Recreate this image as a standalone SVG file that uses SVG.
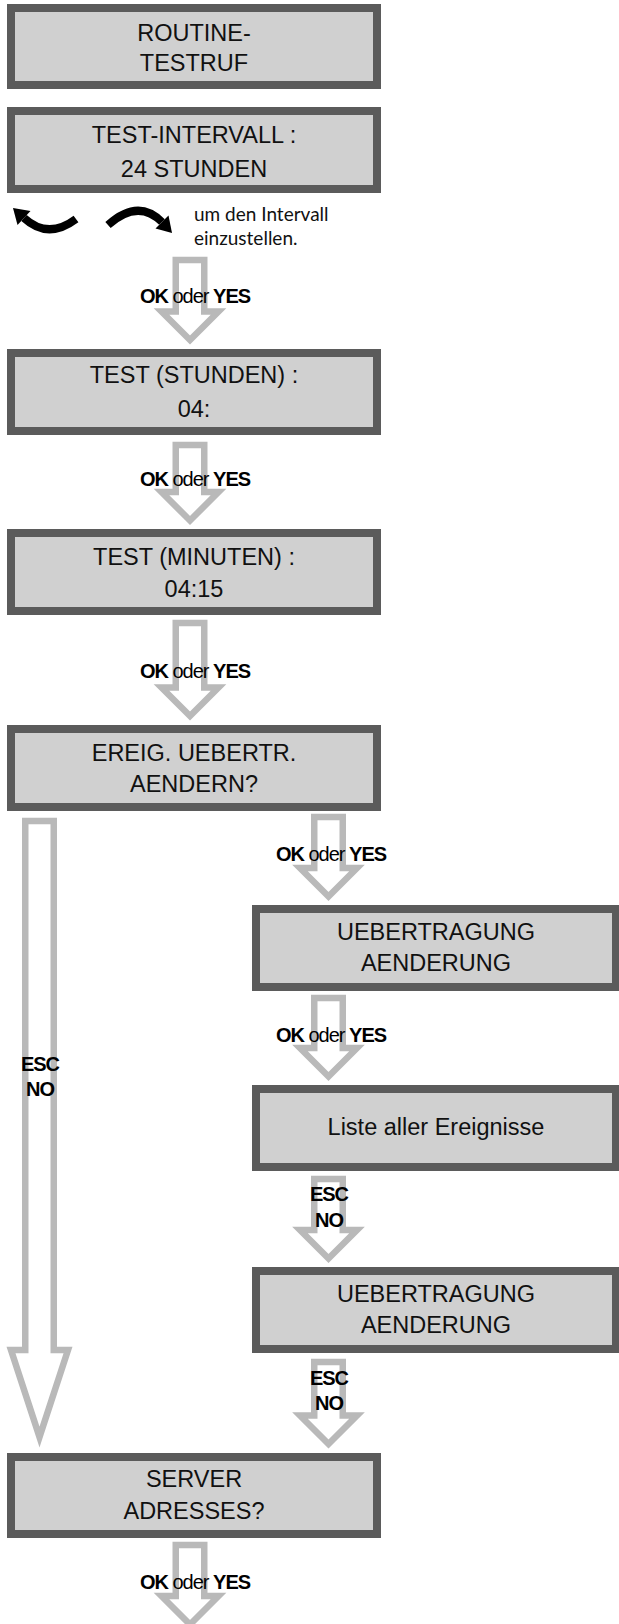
<svg xmlns="http://www.w3.org/2000/svg" width="619" height="1624" viewBox="0 0 619 1624">
<style>
.box{fill:#d0d0d0;stroke:#5b5b5b;stroke-width:8}
.bt{font-family:"Liberation Sans",Arial,sans-serif;font-size:23.5px;fill:#111;text-anchor:middle}
.arr{fill:none;stroke:#b9b9b9;stroke-width:6.5;stroke-linejoin:miter}
.lbl{font-family:"Liberation Sans",Arial,sans-serif;font-size:20px;fill:#000;text-anchor:middle;letter-spacing:-1px}
.b{font-weight:bold}
.hint{font-family:Lato,"Open Sans",sans-serif;font-size:19px;fill:#111}
.curve{fill:none;stroke:#000;stroke-width:8}
</style>
<rect width="619" height="1624" fill="#fff"/>
<g id="connectors">
  <polygon class="arr" points="175.75,260 204.25,260 204.25,311.5 218.5,311.5 190,340 161.5,311.5 175.75,311.5"/>
  <polygon class="arr" points="175.75,445 204.25,445 204.25,492 218.5,492 190,520.5 161.5,492 175.75,492"/>
  <polygon class="arr" points="175.75,623 204.25,623 204.25,687.5 218.5,687.5 190,716 161.5,687.5 175.75,687.5"/>
  <polygon class="arr" points="175.75,1545 204.25,1545 204.25,1596 218.5,1596 190,1624.5 161.5,1596 175.75,1596"/>
  <polygon class="arr" points="314.25,817 342.75,817 342.75,868 357,868 328.5,896.5 300,868 314.25,868"/>
  <polygon class="arr" points="314.25,998 342.75,998 342.75,1048 357,1048 328.5,1076.5 300,1048 314.25,1048"/>
  <polygon class="arr" points="314.25,1179 342.75,1179 342.75,1230 357,1230 328.5,1258.5 300,1230 314.25,1230"/>
  <polygon class="arr" points="314.25,1362 342.75,1362 342.75,1415.5 357,1415.5 328.5,1444 300,1415.5 314.25,1415.5"/>
  <polygon class="arr" points="25.25,821 53.75,821 53.75,1350 68,1350 39.5,1437 11,1350 25.25,1350"/>
  <text class="lbl" x="195" y="303"><tspan class="b">OK</tspan> oder <tspan class="b">YES</tspan></text>
  <text class="lbl" x="195" y="486"><tspan class="b">OK</tspan> oder <tspan class="b">YES</tspan></text>
  <text class="lbl" x="195" y="678"><tspan class="b">OK</tspan> oder <tspan class="b">YES</tspan></text>
  <text class="lbl" x="195" y="1589"><tspan class="b">OK</tspan> oder <tspan class="b">YES</tspan></text>
  <text class="lbl" x="331" y="861"><tspan class="b">OK</tspan> oder <tspan class="b">YES</tspan></text>
  <text class="lbl" x="331" y="1042"><tspan class="b">OK</tspan> oder <tspan class="b">YES</tspan></text>
  <text class="lbl b" x="329" y="1201">ESC</text>
  <text class="lbl b" x="329" y="1227">NO</text>
  <text class="lbl b" x="329" y="1385">ESC</text>
  <text class="lbl b" x="329" y="1410">NO</text>
  <text class="lbl b" x="40" y="1071">ESC</text>
  <text class="lbl b" x="40" y="1096">NO</text>
</g>
<g id="hint">
  <path class="curve" d="M76,219 Q48,240 24,218"/>
  <polygon points="13,208 30.5,211 17.5,225" fill="#000"/>
  <path class="curve" d="M108,225 Q138,198 162,222"/>
  <polygon points="172,233 168.5,215.5 155.5,228.5" fill="#000"/>
  <text class="hint" x="194" y="221">um den Intervall</text>
  <text class="hint" x="194" y="245">einzustellen.</text>
</g>
<g id="routine-testruf">
  <rect class="box" x="11" y="8" width="366" height="77"/>
  <text class="bt" x="194" y="41">ROUTINE-</text>
  <text class="bt" x="194" y="71">TESTRUF</text>
</g>
<g id="test-intervall">
  <rect class="box" x="11" y="111" width="366" height="78"/>
  <text class="bt" x="194" y="143">TEST-INTERVALL :</text>
  <text class="bt" x="194" y="177">24 STUNDEN</text>
</g>
<g id="test-stunden">
  <rect class="box" x="11" y="353" width="366" height="78"/>
  <text class="bt" x="194" y="383">TEST (STUNDEN) :</text>
  <text class="bt" x="194" y="417">04:</text>
</g>
<g id="test-minuten">
  <rect class="box" x="11" y="533" width="366" height="78"/>
  <text class="bt" x="194" y="565">TEST (MINUTEN) :</text>
  <text class="bt" x="194" y="597">04:15</text>
</g>
<g id="ereig-uebertr">
  <rect class="box" x="11" y="729" width="366" height="78"/>
  <text class="bt" x="194" y="761">EREIG. UEBERTR.</text>
  <text class="bt" x="194" y="792">AENDERN?</text>
</g>
<g id="uebertragung-1">
  <rect class="box" x="256" y="909" width="360" height="78"/>
  <text class="bt" x="436" y="940">UEBERTRAGUNG</text>
  <text class="bt" x="436" y="971">AENDERUNG</text>
</g>
<g id="liste">
  <rect class="box" x="256" y="1089" width="360" height="78"/>
  <text class="bt" x="436" y="1135">Liste aller Ereignisse</text>
</g>
<g id="uebertragung-2">
  <rect class="box" x="256" y="1271" width="360" height="78"/>
  <text class="bt" x="436" y="1302">UEBERTRAGUNG</text>
  <text class="bt" x="436" y="1333">AENDERUNG</text>
</g>
<g id="server-adresses">
  <rect class="box" x="11" y="1457" width="366" height="77"/>
  <text class="bt" x="194" y="1487">SERVER</text>
  <text class="bt" x="194" y="1519">ADRESSES?</text>
</g>
</svg>
